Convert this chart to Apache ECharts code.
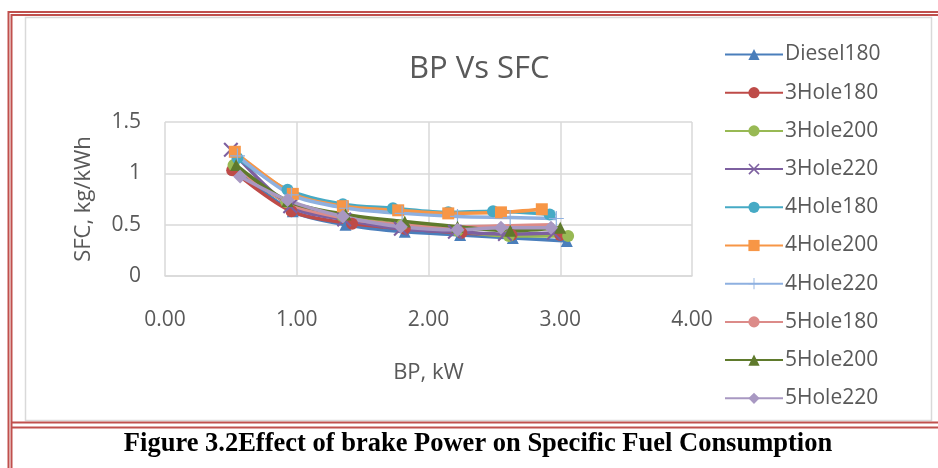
<!DOCTYPE html>
<html>
<head>
<meta charset="utf-8">
<script src="https://cdn.jsdelivr.net/npm/echarts@6/dist/echarts.min.js"></script>
<style>
  html, body { margin: 0; padding: 0; background: #fff; }
  #chart { width: 938px; height: 468px; }
</style>
</head>
<body>
<div id="chart"></div>
<script>
// series names shown in legend
const seriesNames = ['Diesel180', '3Hole180', '3Hole200', '3Hole220', '4Hole180',
  '4Hole200', '4Hole220', '5Hole180', '5Hole200', '5Hole220'];

// BP (kW) and SFC (kg/kWh)
const diesel180 = [[0.53, 1.04], [0.97, 0.63], [1.37, 0.50], [1.82, 0.43], [2.24, 0.40], [2.64, 0.37], [3.05, 0.34]];
const hole3_180 = [[0.51, 1.03], [0.96, 0.63], [1.42, 0.51], [1.82, 0.46], [2.25, 0.42], [2.63, 0.40], [3.00, 0.40]];
const hole3_200 = [[0.52, 1.08], [0.92, 0.72], [1.35, 0.58], [1.80, 0.50], [2.22, 0.44], [2.61, 0.39], [3.06, 0.39]];
const hole3_220 = [[0.50, 1.23], [0.95, 0.68], [1.36, 0.55], [1.79, 0.46], [2.20, 0.43], [2.58, 0.41], [2.95, 0.42]];
const hole4_180 = [[0.55, 1.15], [0.93, 0.84], [1.35, 0.70], [1.73, 0.66], [2.15, 0.62], [2.49, 0.63], [2.92, 0.60]];
const hole4_200 = [[0.53, 1.21], [0.97, 0.80], [1.35, 0.68], [1.77, 0.64], [2.15, 0.61], [2.55, 0.62], [2.86, 0.65]];
const hole4_220 = [[0.55, 1.17], [0.96, 0.79], [1.38, 0.66], [1.80, 0.61], [2.22, 0.58], [2.62, 0.57], [2.97, 0.56]];
const hole5_180 = [[0.55, 1.05], [0.95, 0.70], [1.38, 0.56], [1.80, 0.50], [2.22, 0.48], [2.62, 0.49], [2.95, 0.50]];
const hole5_200 = [[0.54, 1.08], [0.93, 0.73], [1.37, 0.60], [1.82, 0.53], [2.22, 0.48], [2.62, 0.44], [3.00, 0.47]];
const hole5_220 = [[0.57, 0.97], [0.93, 0.74], [1.35, 0.58], [1.79, 0.48], [2.22, 0.45], [2.55, 0.47], [2.93, 0.47]];

const allData = [diesel180, hole3_180, hole3_200, hole3_220, hole4_180,
  hole4_200, hole4_220, hole5_180, hole5_200, hole5_220];

const colors = ['#4a7ebb', '#be4b48', '#98b954', '#7d60a0', '#46aac5',
  '#f79646', '#8eb0e0', '#dc8b89', '#5f7a2c', '#a898c2'];

const crossPath = 'path://M0,1L1,0L5,4L9,0L10,1L6,5L10,9L9,10L5,6L1,10L0,9L4,5Z';
const plusPath = 'path://M4.6,0H5.4V4.6H10V5.4H5.4V10H4.6V5.4H0V4.6H4.6Z';
const symbols = ['triangle', 'circle', 'circle', crossPath, 'circle',
  'rect', plusPath, 'none', 'triangle', 'diamond'];
const symSizes = [12, 12, 12, 15, 12, 12, 15, 0, 12, 14];

const txt = '#595959';
const font = 'Open Sans';
const red = '#c0504d';

let mychart = echarts.init(document.getElementById('chart'));

let series = seriesNames.map(function (n, i) {
  return {
    name: n,
    type: 'line',
    data: allData[i],
    smooth: 0.3,
    symbol: symbols[i],
    symbolSize: symSizes[i],
    showSymbol: symbols[i] !== 'none',
    lineStyle: { width: 3.5, color: colors[i] },
    itemStyle: { color: colors[i] },
    emphasis: { disabled: true }
  };
});

function hline(y, x1, x2) {
  return { type: 'line', shape: { x1: x1, y1: y, x2: x2, y2: y }, style: { stroke: red, lineWidth: 2 } };
}
function vline(x, y1, y2) {
  return { type: 'line', shape: { x1: x, y1: y1, x2: x, y2: y2 }, style: { stroke: red, lineWidth: 2 } };
}

let option = {
  animation: false,
  color: colors,
  title: {
    text: 'BP Vs SFC',
    left: 404,
    top: 49,
    textStyle: { fontFamily: font, fontSize: 31, fontWeight: 'normal', color: txt }
  },
  legend: {
    orient: 'vertical',
    left: 719,
    top: 38,
    itemWidth: 58,
    itemHeight: 14,
    itemGap: 15.2,
    textStyle: { fontFamily: font, fontSize: 21, color: txt, lineHeight: 23, padding: [0, 0, 0, -3] },
    data: seriesNames
  },
  grid: { left: 165, right: 246, top: 122, bottom: 192 },
  xAxis: {
    type: 'value',
    min: 0, max: 4, interval: 1,
    name: 'BP, kW',
    nameLocation: 'middle',
    nameGap: 86,
    nameTextStyle: { fontFamily: font, fontSize: 22, color: txt },
    axisLine: { show: true, lineStyle: { color: '#d9d9d9', width: 1.5 } },
    axisTick: { show: false },
    splitLine: { show: true, lineStyle: { color: '#d9d9d9', width: 1.5 } },
    axisLabel: {
      fontFamily: font, fontSize: 21, color: txt, margin: 34,
      formatter: function (v) { return v.toFixed(2); }
    }
  },
  yAxis: {
    type: 'value',
    min: 0, max: 1.5, interval: 0.5,
    name: 'SFC, kg/kWh',
    nameLocation: 'middle',
    nameGap: 70,
    nameTextStyle: { fontFamily: font, fontSize: 22, color: txt },
    axisLine: { show: false },
    axisTick: { show: false },
    splitLine: { show: true, lineStyle: { color: '#d9d9d9', width: 1.5 } },
    axisLabel: { fontFamily: font, fontSize: 21, color: txt, margin: 24 }
  },
  graphic: [
    { type: 'rect', shape: { x: 25.5, y: 17.5, width: 906, height: 403 }, style: { fill: 'none', stroke: '#d9d9d9', lineWidth: 1.5 }, z: -1 },
    vline(8.5, 11, 468),
    vline(11.5, 14, 468),
    hline(12, 8, 938),
    hline(15, 11, 938),
    hline(422.5, 11, 938),
    hline(427.5, 11, 938),
    {
      type: 'text',
      x: 478, y: 444,
      style: {
        text: 'Figure 3.2Effect of brake Power on Specific Fuel Consumption',
        fontFamily: 'Liberation Serif', fontSize: 26.5, fontWeight: 'bold', fill: '#000',
        align: 'center', verticalAlign: 'middle'
      }
    }
  ],
  series: series
};
mychart.setOption(option);
</script>
</body>
</html>
